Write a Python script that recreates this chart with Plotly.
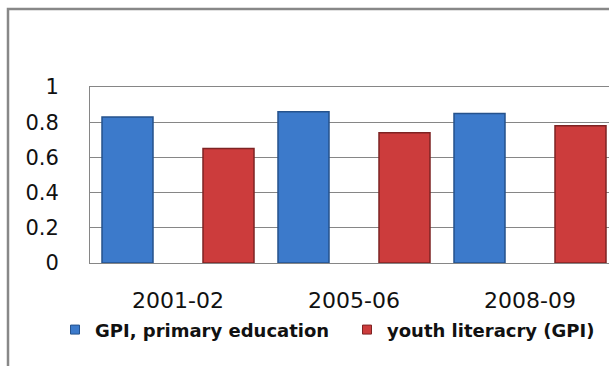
import plotly.graph_objects as go

categories = ["2001-02", "2005-06", "2008-09"]
gpi_primary = [0.83, 0.86, 0.85]
youth_literacy = [0.65, 0.74, 0.78]
series_names = ["GPI, primary education", "youth literacry (GPI)"]
y_ticks = [0, 0.2, 0.4, 0.6, 0.8, 1]
y_tick_labels = ["0", "0.2", "0.4", "0.6", "0.8", "1"]

W, H = 609, 366
L, T, B = 90, 87, 103
plot_w = W - L
cat_w = 176.0

blue, blue_edge = "#3c7acb", "#25528c"
red, red_edge = "#cc3c3c", "#7e2323"

fig = go.Figure()
fig.add_trace(go.Bar(
    x=categories, y=gpi_primary, name=series_names[0], showlegend=False,
    width=51 / cat_w, offset=-0.5 + 12 / cat_w,
    marker=dict(color=blue, line=dict(color=blue_edge, width=1.5)),
))
fig.add_trace(go.Bar(
    x=categories, y=youth_literacy, name=series_names[1], showlegend=False,
    width=51 / cat_w, offset=-0.5 + 113 / cat_w,
    marker=dict(color=red, line=dict(color=red_edge, width=1.5)),
))
# legend entries (small square keys as in the reference)
fig.add_trace(go.Scatter(
    x=[None], y=[None], mode="markers", name=series_names[0], legend="legend",
    marker=dict(symbol="square", size=9, color=blue, line=dict(color=blue_edge, width=1)),
))
fig.add_trace(go.Scatter(
    x=[None], y=[None], mode="markers", name=series_names[1], legend="legend2",
    marker=dict(symbol="square", size=9, color=red, line=dict(color=red_edge, width=1)),
))

grid = "#868686"
legend_font = dict(family="DejaVu Sans", size=18, color="#111111", weight="bold")
fig.update_layout(
    width=W, height=H,
    margin=dict(l=L, r=0, t=T, b=B, pad=0),
    paper_bgcolor="white", plot_bgcolor="white",
    barmode="overlay",
    showlegend=True,
    font=dict(family="DejaVu Sans", color="#111111", size=20),
    legend=dict(
        orientation="h", x=(55 - L) / plot_w, xanchor="left", y=-0.38, yanchor="middle",
        font=legend_font, bgcolor="rgba(0,0,0,0)",
    ),
    legend2=dict(
        orientation="h", x=(347 - L) / plot_w, xanchor="left", y=-0.38, yanchor="middle",
        font=legend_font, bgcolor="rgba(0,0,0,0)",
    ),
    xaxis=dict(
        type="category", range=[-0.5, -0.5 + plot_w / cat_w],
        showgrid=False, showline=True, linecolor=grid, linewidth=1, mirror=True,
        ticks="outside", ticklen=18, tickcolor="rgba(0,0,0,0)",
        tickfont=dict(family="DejaVu Sans", size=22, color="#111111"),
    ),
    yaxis=dict(
        range=[0, 1], tickvals=y_ticks, ticktext=y_tick_labels,
        showgrid=True, gridcolor=grid, gridwidth=1,
        showline=True, linecolor=grid, linewidth=1, mirror=True,
        zeroline=False, ticks="outside", ticklen=26, tickcolor="rgba(0,0,0,0)",
        tickfont=dict(family="DejaVu Sans", size=21, color="#111111"),
    ),
)

# outer chart frame (left and top edges visible in the crop)
def px_to_paper_x(px):
    return (px - L) / plot_w

def px_to_paper_y(py):
    return (H - B - py) / (H - T - B)

fig.add_shape(
    type="path", xref="paper", yref="paper",
    path=f"M {px_to_paper_x(8)} {px_to_paper_y(370)} L {px_to_paper_x(8)} {px_to_paper_y(9)} L {px_to_paper_x(615)} {px_to_paper_y(9)}",
    line=dict(color="#888888", width=2.5),
)

fig.write_html("out.html")
